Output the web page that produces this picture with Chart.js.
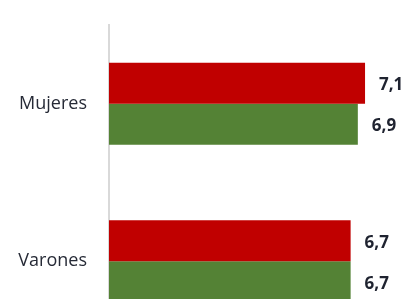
<!DOCTYPE html>
<html>
<head>
<meta charset="utf-8">
<script src="https://cdn.jsdelivr.net/npm/chart.js@4/dist/chart.umd.min.js"></script>
<style>
  html, body { margin: 0; padding: 0; background: #fff; }
  #wrap { width: 408px; height: 299px; overflow: hidden; }
</style>
</head>
<body>
<div id="wrap"><canvas id="chart" width="408" height="340" style="width:408px;height:340px"></canvas></div>
<script>
'use strict';

// values
let categories = ['Mujeres', 'Varones'];
let redValues = [7.1, 6.7];
let greenValues = [6.9, 6.7];

// writes the value just after the end of each bar, with a comma as decimal mark
let valueLabels = {
  id: 'valueLabels',
  afterDatasetsDraw(chart) {
    let ctx = chart.ctx;
    ctx.save();
    ctx.font = 'bold 17px "Open Sans"';
    ctx.fillStyle = '#1f2330';
    ctx.textAlign = 'left';
    ctx.textBaseline = 'middle';
    chart.data.datasets.forEach(function (ds, i) {
      chart.getDatasetMeta(i).data.forEach(function (bar, j) {
        let txt = ds.data[j].toFixed(1).replace('.', ',');
        ctx.fillText(txt, bar.x + 14, bar.y + 2);
      });
    });
    ctx.restore();
  }
};

// the canvas is taller than the window: the lower bar is cut off like in the picture
new Chart(document.getElementById('chart').getContext('2d'), {
  type: 'bar',
  data: {
    labels: categories,
    datasets: [{
      label: 'Serie 1',
      data: redValues,
      backgroundColor: '#c00000'
    }, {
      label: 'Serie 2',
      data: greenValues,
      backgroundColor: '#548235'
    }]
  },
  options: {
    indexAxis: 'y',
    responsive: false,
    animation: false,
    datasets: {
      bar: { categoryPercentage: 0.52, barPercentage: 1, borderWidth: 0 }
    },
    layout: { padding: { top: 25, right: 10.5, bottom: 0, left: 0 } },
    plugins: {
      legend: { display: false },
      tooltip: { enabled: false }
    },
    scales: {
      x: { display: false, min: 0, max: 8 },
      y: {
        grid: { display: false, drawTicks: false },
        border: { display: true, color: '#d9d9d9', width: 2 },
        ticks: {
          padding: 22,
          color: '#262a36',
          font: { family: 'Open Sans', size: 18 }
        },
        afterFit(scale) {
          scale.width = 109;
          scale.paddingTop = 0;
          scale.paddingBottom = 0;
        }
      }
    }
  },
  plugins: [valueLabels]
});
</script>
</body>
</html>
